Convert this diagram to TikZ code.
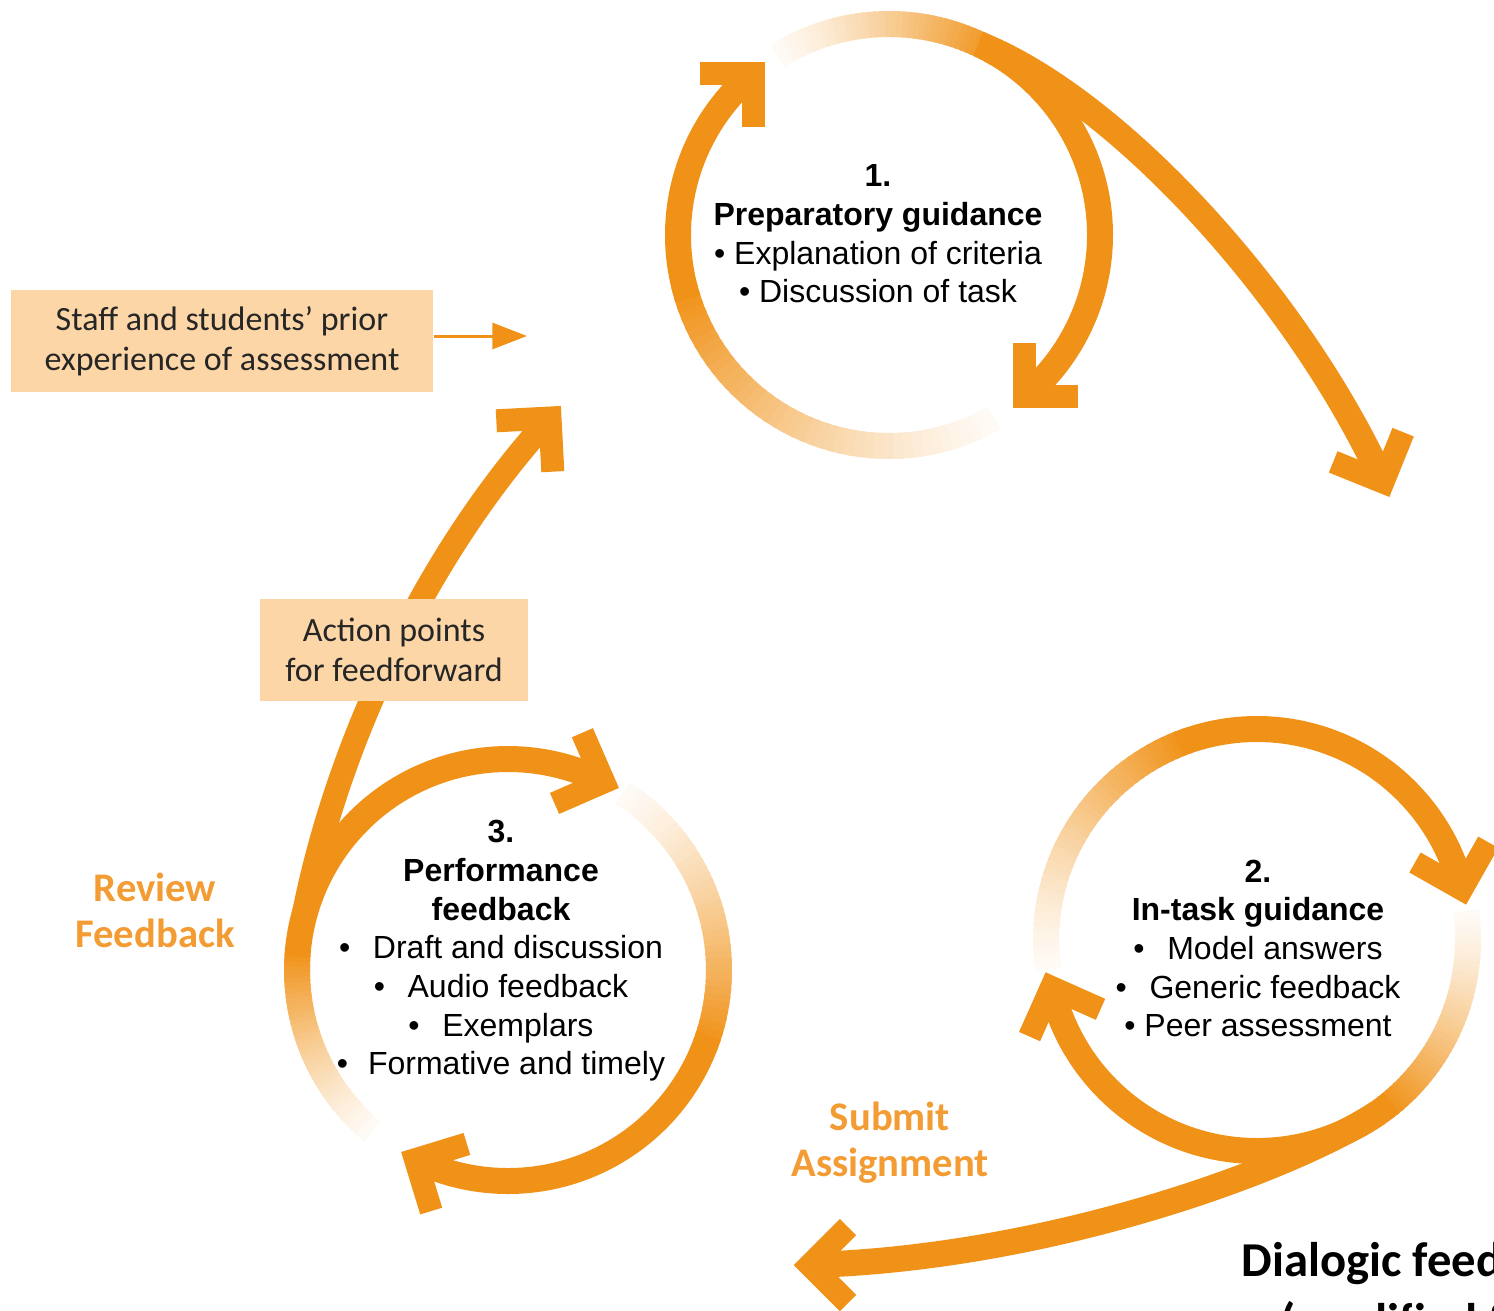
\documentclass[tikz,border=0pt]{standalone}
\usepackage{fontspec}
\setmainfont{Liberation Sans}
\newfontfamily\labelfont{Carlito}
\usetikzlibrary{arrows.meta,calc}

\definecolor{ringorange}{RGB}{240,146,24}
\definecolor{boxpeach}{RGB}{252,214,166}
\definecolor{labelorange}{RGB}{243,156,52}

\tikzset{every picture/.style={line width=0.75pt}}
\tikzset{
  ring/.style={draw=ringorange, line width=19.5pt},
  pics/chevron/.style={code={\draw[draw=ringorange, line width=17.25pt, line join=miter] (-38,-38) -- (0,0) -- (-38,38);}},
  stagetext/.style={align=center, inner sep=0pt, font=\fontsize{24}{29}\selectfont},
  peachbox/.style={fill=boxpeach, align=center, inner sep=0pt, text=black!85, font=\labelfont\fontsize{25.5}{30}\selectfont},
  sidelabel/.style={align=center, inner sep=0pt, text=labelorange, font=\labelfont\bfseries\fontsize{30.5}{34.5}\selectfont},
  feedarrow/.style={draw=ringorange, line width=2.25pt, -{Triangle[length=26pt,width=19.5pt]}}
}

% fading part of a ring: centre, from angle, to angle
\newcommand{\fadearc}[3]{%
  \foreach \i in {0,...,39}{%
    \pgfmathsetmacro{\angA}{#2+(#3-#2)*\i/40}%
    \pgfmathsetmacro{\angB}{#2+(#3-#2)*(\i+1.5)/40}%
    \pgfmathtruncatemacro{\fadepct}{4+96*((\i+1)/40)^1.3}%
    \draw[ring, draw=ringorange!\fadepct!white] ($(#1)+(\angA:211)$) arc[start angle=\angA, end angle=\angB, radius=211];
  }}

\begin{document}
\begin{tikzpicture}[x=0.75pt,y=0.75pt,yscale=-1,xscale=1]
	\useasboundingbox (0,0) rectangle (1494,1310);
	\clip (0,0) rectangle (1494,1310);

	%Centres of the rings
	\coordinate (c1) at (889,235);
	\coordinate (c2) at (1257,940);
	\coordinate (c3) at (508,970);

	%Shape: Ring 1
	\fadearc{c1}{60}{165}
	\draw[ring] ($(c1)+(165:211)$) arc[start angle=165, end angle=230, radius=211];
	\fadearc{c1}{238}{300}
	\draw[ring] ($(c1)+(300:211)$) arc[start angle=300, end angle=410, radius=211];
	%Shape: Ring 2
	\fadearc{c2}{172}{250}
	\draw[ring] ($(c2)+(250:211)$) arc[start angle=250, end angle=346, radius=211];
	\fadearc{c2}{-8}{52}
	\draw[ring] ($(c2)+(52:211)$) arc[start angle=52, end angle=167, radius=211];
	%Shape: Ring 3
	\fadearc{c3}{130}{185}
	\draw[ring] ($(c3)+(185:211)$) arc[start angle=185, end angle=297, radius=211];
	\fadearc{c3}{303}{380}
	\draw[ring] ($(c3)+(380:211)$) arc[start angle=380, end angle=476, radius=211];

	%Curve Lines
	\coordinate (longtip) at (1383,482);
	\draw[ring] ($(c1)+(295:211)$) .. controls (1120,100) and (1300,300) .. (longtip);
	%Curve Lines
	\coordinate (submittip) at (810,1265);
	\draw[ring] ($(c2)+(55:211)$) .. controls (1290,1170) and (1050,1258) .. (submittip);
	%Curve Lines
	\coordinate (actiontip) at (550,418);
	\draw[line width=18pt, draw=ringorange] ($(c3)+(191:211)$) .. controls (331,760) and (420,560) .. (actiontip);

	%Arrow heads
	\pic[rotate=45] at ($(c1)+(230:211)$) {chevron};
	\pic[rotate=-135] at ($(c1)+(50:211)$) {chevron};
	\pic[rotate=-67] at (longtip) {chevron};
	\pic[rotate=-74.5] at ($(c2)+(-14:211)$) {chevron};
	\pic[rotate=-249] at ($(c2)+(167:211)$) {chevron};
	\pic[rotate=180] at (submittip) {chevron};
	\pic[rotate=-21.5] at ($(c3)+(-63:211)$) {chevron};
	\pic[rotate=-208] at ($(c3)+(116:211)$) {chevron};
	\pic[rotate=48] at (actiontip) {chevron};

	% Text Node
	\node[peachbox, minimum width=316.5pt, minimum height=76pt] (staff) at (222,341) {Staff and students’ prior\\experience of assessment};
	\coordinate (staffend) at (527,336);
	\draw[feedarrow] (staff.east |- staffend) -- (staffend);
	% Text Node
	\node[peachbox, minimum width=201pt, minimum height=76.5pt] (action) at (394,650) {Action points\\for feedforward};
	% Text Node
	\node[stagetext] (prep) at (878,234) {\textbf{1.}\\\textbf{Preparatory guidance}\\• Explanation of criteria\\• Discussion of task};
	% Text Node
	\node[stagetext] (intask) at (1258,948.5) {\textbf{2.}\\\textbf{In-task guidance}\\•\hspace{17pt}Model answers\\•\hspace{17pt}Generic feedback\\• Peer assessment};
	% Text Node
	\node[stagetext] (perf) at (501,951) {\textbf{3.}\\\textbf{Performance}\\\textbf{feedback}\\•\hspace{17pt}Draft and discussion\\•\hspace{17pt}Audio feedback\\•\hspace{17pt}Exemplars\\•\hspace{15pt}Formative and timely};
	% Text Node
	\node[sidelabel] (review) at (155,910) {Review\\Feedback};
	% Text Node
	\node[sidelabel] (submit) at (890,1143) {Submit\\Assignment};
	% Text Node
	\node[anchor=base west, inner sep=0pt, font=\labelfont\bfseries\fontsize{36.5}{42}\selectfont] (title) at (1241,1276) {Dialogic feedback};
	\node[anchor=base west, inner sep=0pt, font=\labelfont\bfseries\fontsize{36.5}{42}\selectfont] (subtitle) at (1280,1337) {(modified from};
\end{tikzpicture}
\end{document}
